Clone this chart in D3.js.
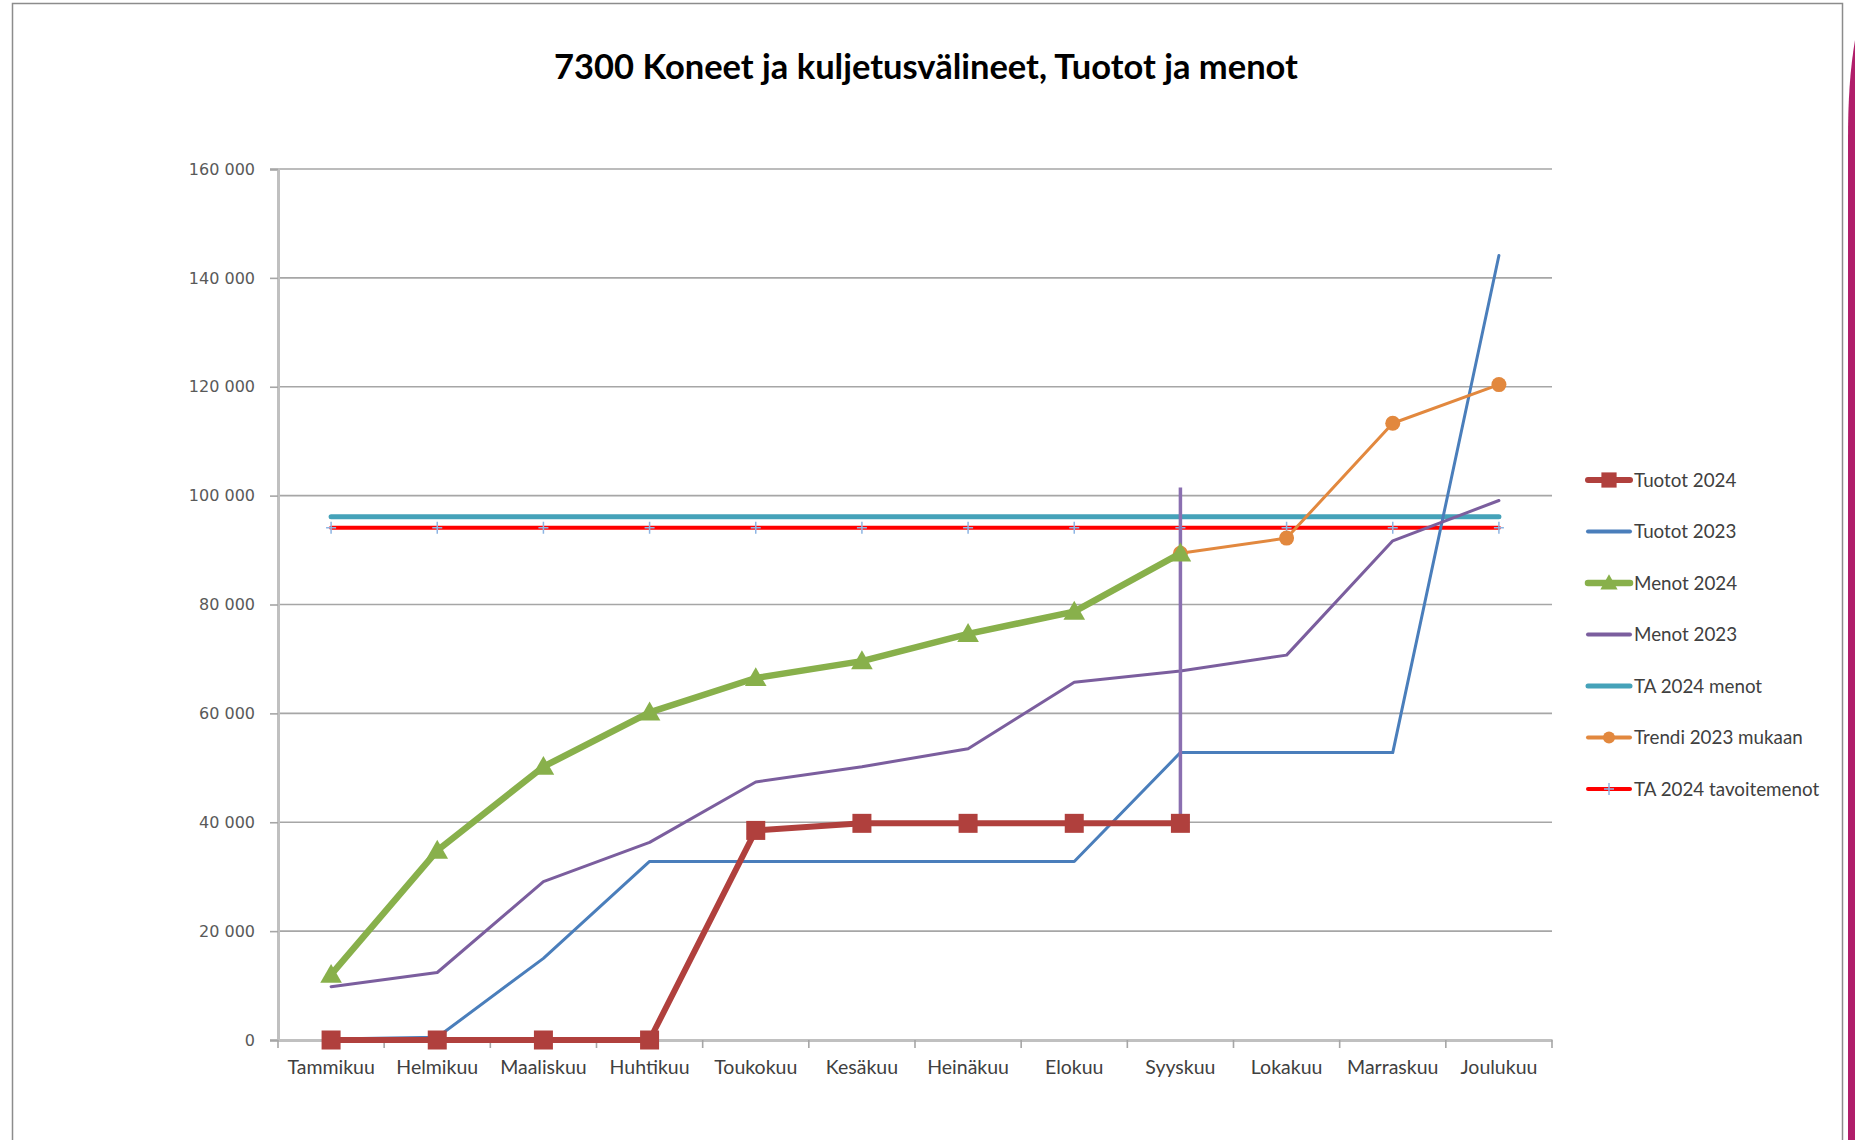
<!DOCTYPE html>
<html>
<head>
<meta charset="utf-8">
<script src="https://cdn.jsdelivr.net/npm/d3@7"></script>
<style>
    body { margin: 0; background: #ffffff; }
    svg { display: block; }
</style>
</head>
<body>
<svg id="chart"></svg>
<script>
"use strict";

// Months on the x axis
const months = ["Tammikuu", "Helmikuu", "Maaliskuu", "Huhtikuu", "Toukokuu", "Kesäkuu",
    "Heinäkuu", "Elokuu", "Syyskuu", "Lokakuu", "Marraskuu", "Joulukuu"];

// Series values (null = no value for that month)
const tuotot2024 = [0, 0, 0, 0, 38500, 39800, 39800, 39800, 39800, null, null, null];
const tuotot2023 = [200, 500, 15000, 32800, 32800, 32800, 32800, 32800, 52800, 52800, 52800, 144100];
const menot2024 = [12000, 34800, 50200, 60200, 66500, 69600, 74600, 78700, 89400, null, null, null];
const menot2023 = [9800, 12400, 29100, 36300, 47400, 50200, 53500, 65700, 67800, 70700, 91700, 99100];
const ta2024Menot = [96100, 96100, 96100, 96100, 96100, 96100, 96100, 96100, 96100, 96100, 96100, 96100];
const trendi2023 = [null, null, null, null, null, null, null, null, 89400, 92200, 113300, 120400];
const ta2024Tavoite = [94100, 94100, 94100, 94100, 94100, 94100, 94100, 94100, 94100, 94100, 94100, 94100];

// Current month marker line
const markerMonth = "Syyskuu";
const markerRange = [41000, 101500];

// Y axis ticks
const yTicks = [0, 20000, 40000, 60000, 80000, 100000, 120000, 140000, 160000];

const width = 1855, height = 1140;
const plot = {left: 278, right: 1552, top: 169, bottom: 1040};

const series = [
    {name: "Tuotot 2024", values: tuotot2024, color: "#b0403d", width: 6, marker: "square"},
    {name: "Tuotot 2023", values: tuotot2023, color: "#4a7ebb", width: 3, marker: null},
    {name: "Menot 2024", values: menot2024, color: "#88b04b", width: 6.5, marker: "triangle"},
    {name: "Menot 2023", values: menot2023, color: "#7b5e9e", width: 3, marker: null},
    {name: "TA 2024 menot", values: ta2024Menot, color: "#45a2b9", width: 5, marker: null},
    {name: "Trendi 2023 mukaan", values: trendi2023, color: "#e2883e", width: 3, marker: "circle"},
    {name: "TA 2024 tavoitemenot", values: ta2024Tavoite, color: "#ff0000", width: 4, marker: "plus"}
];

// Draw order (back to front) as in the original
const drawOrder = ["TA 2024 menot", "TA 2024 tavoitemenot", "Tuotot 2023", "Menot 2023",
    "Trendi 2023 mukaan", "Menot 2024", "Tuotot 2024"];

const svg = d3.select("#chart")
    .attr("width", width)
    .attr("height", height);

// Frame of the screenshot
svg.append("rect")
    .attr("x", 12.5).attr("y", 3.5)
    .attr("width", 1830).attr("height", height + 10)
    .attr("fill", "none")
    .attr("stroke", "#8c8c8c")
    .attr("stroke-width", 1.5);

svg.append("path")
    .attr("d", "M1855,40 C1850,70 1848,100 1848,140 L1848,1140 L1855,1140 Z")
    .attr("fill", "#b01e6a");

const x = d3.scaleBand()
    .domain(months)
    .range([plot.left, plot.right]);

const y = d3.scaleLinear()
    .domain([0, 160000])
    .range([plot.bottom, plot.top]);

const fmt = (v) => d3.format(",")(v).replace(/,/g, " ");

// Title
svg.append("text")
    .attr("x", 926)
    .attr("y", 79)
    .attr("text-anchor", "middle")
    .attr("font-family", "Lato, 'Open Sans', sans-serif")
    .attr("font-weight", "bold")
    .attr("font-size", 34.5)
    .attr("fill", "#000")
    .text("7300 Koneet ja kuljetusvälineet, Tuotot ja menot");

// Gridlines
svg.append("g")
    .selectAll("line")
    .data(yTicks.slice(1))
    .join("line")
    .attr("x1", plot.left).attr("x2", plot.right)
    .attr("y1", (d) => y(d)).attr("y2", (d) => y(d))
    .attr("stroke", "#a6a6a6")
    .attr("stroke-width", 1.6);

// Y axis
const yAxis = svg.append("g")
    .attr("transform", `translate(${plot.left},0)`)
    .call(d3.axisLeft(y).tickValues(yTicks).tickFormat(fmt).tickSize(8).tickPadding(15));
yAxis.select(".domain").attr("stroke", "#c0c0c0").attr("stroke-width", 3);
yAxis.selectAll(".tick line").attr("stroke", "#a6a6a6").attr("stroke-width", 1.6);
yAxis.selectAll(".tick text")
    .attr("font-family", "'DejaVu Sans', Verdana, sans-serif")
    .attr("font-size", 16)
    .attr("fill", "#595959");

// X axis
const xAxis = svg.append("g")
    .attr("transform", `translate(0,${plot.bottom})`)
    .call(d3.axisBottom(x).tickSize(0).tickPadding(20));
xAxis.select(".domain").attr("stroke", "#c0c0c0").attr("stroke-width", 3);
xAxis.selectAll(".tick text")
    .attr("font-family", "Lato, 'Open Sans', sans-serif")
    .attr("font-size", 19.5)
    .attr("fill", "#404040");

// Category boundary ticks
svg.append("g")
    .selectAll("line")
    .data(months.concat(["end"]))
    .join("line")
    .attr("x1", (d, i) => plot.left + i * x.step())
    .attr("x2", (d, i) => plot.left + i * x.step())
    .attr("y1", plot.bottom).attr("y2", plot.bottom + 8)
    .attr("stroke", "#a6a6a6")
    .attr("stroke-width", 1.6);

const cx = (i) => x(months[i]) + x.bandwidth() / 2;

const line = d3.line()
    .defined((d) => d !== null)
    .x((d, i) => cx(i))
    .y((d) => y(d));

function drawMarkers(g, s, size, ox, oy) {
    const pts = s.values.map((v, i) => ({v, i})).filter((d) => d.v !== null);
    const px = (d) => (ox === undefined ? cx(d.i) : ox);
    const py = (d) => (oy === undefined ? y(d.v) : oy);
    if (s.marker === "square") {
        g.selectAll(null).data(pts).join("rect")
            .attr("x", (d) => px(d) - size / 2).attr("y", (d) => py(d) - size / 2)
            .attr("width", size).attr("height", size)
            .attr("fill", s.color);
    } else if (s.marker === "triangle") {
        g.selectAll(null).data(pts).join("path")
            .attr("d", (d) => `M${px(d)},${py(d) - size * 0.6}L${px(d) + size * 0.6},${py(d) + size * 0.45}L${px(d) - size * 0.6},${py(d) + size * 0.45}Z`)
            .attr("fill", s.color);
    } else if (s.marker === "circle") {
        g.selectAll(null).data(pts).join("circle")
            .attr("cx", px).attr("cy", py)
            .attr("r", size / 2)
            .attr("fill", s.color);
    } else if (s.marker === "plus") {
        g.selectAll(null).data(pts).join("path")
            .attr("d", (d) => `M${px(d) - 5},${py(d)}H${px(d) + 5}M${px(d)},${py(d) - 6}V${py(d) + 6}`)
            .attr("stroke", "#8eb4e3")
            .attr("stroke-width", 1.5)
            .attr("fill", "none");
    }
}

const markerSizes = {square: 19, triangle: 18, circle: 15, plus: 10};

const linesG = svg.append("g");
drawOrder.forEach((name) => {
    const s = series.find((d) => d.name === name);
    const g = linesG.append("g");
    g.append("path")
        .datum(s.values)
        .attr("d", line)
        .attr("fill", "none")
        .attr("stroke", s.color)
        .attr("stroke-width", s.width)
        .attr("stroke-linejoin", "round")
        .attr("stroke-linecap", "round");
    if (s.marker) drawMarkers(g, s, markerSizes[s.marker]);
    // Current month marker sits above the 2023 expenses line
    if (name === "Menot 2023") {
        const mx = x(markerMonth) + x.bandwidth() / 2;
        g.append("line")
            .attr("x1", mx).attr("x2", mx)
            .attr("y1", y(markerRange[0])).attr("y2", y(markerRange[1]))
            .attr("stroke", "#8a6fb0")
            .attr("stroke-width", 3.5);
    }
});

// Legend
const legend = svg.append("g")
    .selectAll("g")
    .data(series)
    .join("g")
    .attr("transform", (d, i) => `translate(1588,${480 + i * 51.5})`);

legend.append("line")
    .attr("x1", 0).attr("x2", 42)
    .attr("stroke", (d) => d.color)
    .attr("stroke-width", (d) => Math.max(d.width, 4))
    .attr("stroke-linecap", "round");

legend.each(function (d) {
    if (d.marker) {
        const g = d3.select(this).append("g");
        const one = {name: d.name, color: d.color, marker: d.marker, values: [0]};
        drawMarkers(g, one, markerSizes[d.marker] * 0.8, 21, 0);
    }
});

legend.append("text")
    .attr("x", 46)
    .attr("dy", "0.35em")
    .attr("font-family", "Lato, 'Open Sans', sans-serif")
    .attr("font-size", 18.8)
    .attr("fill", "#404040")
    .text((d) => d.name);
</script>
</body>
</html>
